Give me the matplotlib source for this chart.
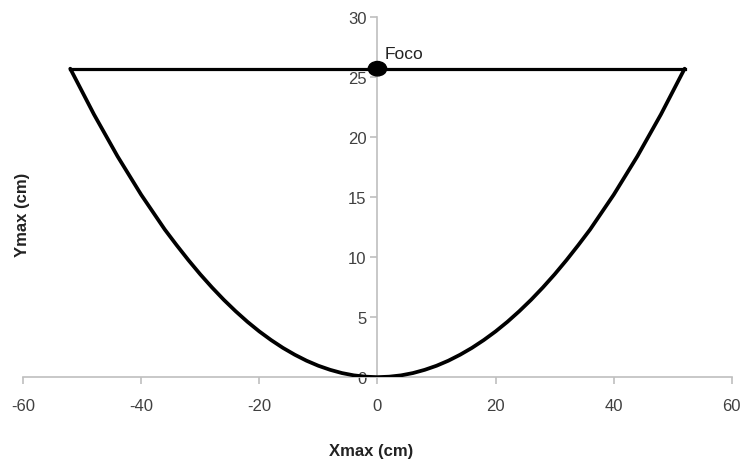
import matplotlib
matplotlib.use("Agg")
import matplotlib.pyplot as plt
from matplotlib.patches import Ellipse

plt.rcParams['font.family'] = ['Liberation Sans', 'DejaVu Sans']
plt.rcParams['axes.unicode_minus'] = False

# parabola (right half, mirrored for the left)
half_x = [0, 2, 4, 6, 8, 10, 12, 14, 16, 18, 20, 22, 24, 26,
          28, 30, 32, 34, 36, 38, 40, 42, 44, 46, 48, 50, 52]
half_y = [0, 0.04, 0.15, 0.34, 0.61, 0.95, 1.37, 1.87, 2.44, 3.09, 3.81, 4.61, 5.49, 6.44,
          7.47, 8.57, 9.75, 11.0, 12.3, 13.75, 15.2, 16.8, 18.4, 20.15, 21.9, 23.8, 25.7]
x_vals = [-v for v in half_x[::-1]] + half_x[1:]
y_vals = half_y[::-1] + half_y[1:]

# latus rectum line and focus
line_x = [-52, 52]
line_y = [25.7, 25.7]
focus_x = 0
focus_y = 25.7
focus_label = "Foco"

xticks = [-60, -40, -20, 0, 20, 40, 60]
yticks = [0, 5, 10, 15, 20, 25, 30]

fig = plt.figure(figsize=(7.43, 4.64), dpi=100)
ax = fig.add_axes([0.031, 0.185, 0.954, 0.776])

ax.plot(x_vals, y_vals, color="black", lw=2.7, solid_capstyle="round",
        solid_joinstyle="round", zorder=3)
ax.plot(line_x, line_y, color="black", lw=2.3, zorder=3)
ax.add_patch(Ellipse((focus_x, focus_y), width=3.1, height=1.2, color="black", zorder=4))
ax.text(focus_x + 1.2, focus_y + 0.65, focus_label, fontsize=12.5, color="#222222",
        ha="left", va="bottom")

ax.set_xlim(-60, 60)
ax.set_ylim(0, 30)
ax.set_xticks(xticks)
ax.set_yticks(yticks)

grey = "#BFBFBF"
for side in ["top", "right"]:
    ax.spines[side].set_visible(False)
ax.spines["left"].set_position(("data", 0))
ax.spines["bottom"].set_position(("data", 0))
ax.spines["left"].set_color(grey)
ax.spines["bottom"].set_color(grey)
ax.spines["left"].set_linewidth(1.2)
ax.spines["bottom"].set_linewidth(1.2)
ax.tick_params(axis="both", colors=grey, length=5, width=1.2, labelcolor="#404040",
               labelsize=12)
ax.tick_params(axis="x", pad=10)
ax.tick_params(axis="y", pad=3)

fig.text(0.50, 0.026, "Xmax (cm)", fontsize=12, fontweight="bold",
         ha="center", va="center", color="#222222")
fig.text(0.03, 0.537, "Ymax (cm)", fontsize=12, fontweight="bold",
         ha="center", va="center", rotation=90, color="#222222")

fig.savefig("out.png", dpi=100)
